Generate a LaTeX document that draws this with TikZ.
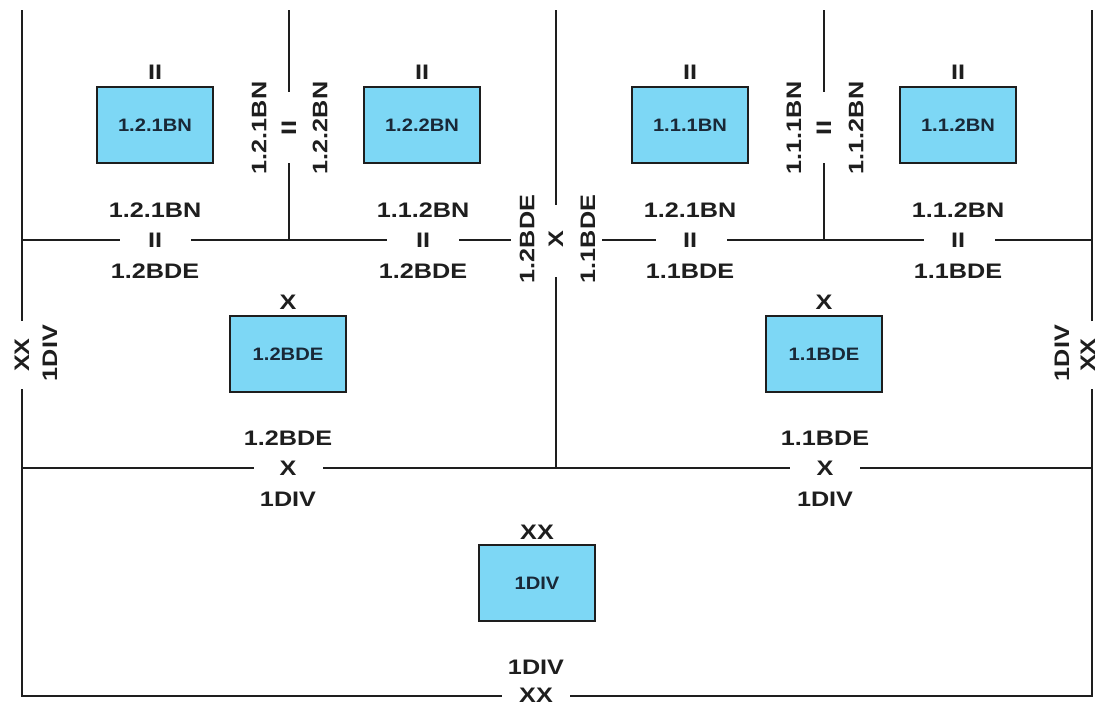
\documentclass[tikz,border=0pt]{standalone}
\usepackage{fontspec}
\setmainfont[FakeStretch=1.2]{Liberation Sans}
\newfontfamily\boxf[FakeStretch=1.12]{Liberation Sans}
\definecolor{boxblue}{RGB}{125,215,245}
\definecolor{ink}{RGB}{30,30,30}
\definecolor{boxink}{RGB}{25,40,55}
\tikzset{
  unitbox/.style={draw=ink, line width=2.8pt, fill=boxblue, minimum width=116pt, minimum height=76pt, inner sep=0pt, font=\boxf\bfseries\fontsize{18}{20}\selectfont, text=boxink},
  lbl/.style={inner sep=0pt, font=\bfseries\fontsize{21}{24}\selectfont, text=ink},
  rlbl/.style={lbl, rotate=90},
  wire/.style={draw=ink, line width=2.4pt}
}
\begin{document}
\begin{tikzpicture}[x=1pt,y=-1pt]
\useasboundingbox (0,0) rectangle (1099,707);
% boxes
\node[unitbox] (b121) at (155,125) {1.2.1BN};
\node[unitbox] (b122) at (422,125) {1.2.2BN};
\node[unitbox] (b111) at (690,125) {1.1.1BN};
\node[unitbox] (b112) at (958,125) {1.1.2BN};
\node[unitbox] (b12) at (288,354) {1.2BDE};
\node[unitbox] (b11) at (824,354) {1.1BDE};
\node[unitbox] (b1) at (537,583) {1DIV};
% echelon symbols above boxes
\node[lbl] (s121) at (155,72) {II};
\node[lbl] (s122) at (422,72) {II};
\node[lbl] (s111) at (690,72) {II};
\node[lbl] (s112) at (958,72) {II};
\node[lbl] (s12) at (288,302) {X};
\node[lbl] (s11) at (824,302) {X};
\node[lbl] (s1) at (537,532) {XX};
% boundary labels on y=240
\node[lbl] (h1a) at (155,210) {1.2.1BN};
\node[lbl] (h1b) at (155,240) {II};
\node[lbl] (h1c) at (155,271) {1.2BDE};
\node[lbl] (h2a) at (423,210) {1.1.2BN};
\node[lbl] (h2b) at (423,240) {II};
\node[lbl] (h2c) at (423,271) {1.2BDE};
\node[lbl] (h3a) at (690,210) {1.2.1BN};
\node[lbl] (h3b) at (690,240) {II};
\node[lbl] (h3c) at (690,271) {1.1BDE};
\node[lbl] (h4a) at (958,210) {1.1.2BN};
\node[lbl] (h4b) at (958,240) {II};
\node[lbl] (h4c) at (958,271) {1.1BDE};
% boundary labels on y=468
\node[lbl] (k1a) at (288,438) {1.2BDE};
\node[lbl] (k1b) at (288,468) {X};
\node[lbl] (k1c) at (288,499) {1DIV};
\node[lbl] (k2a) at (825,438) {1.1BDE};
\node[lbl] (k2b) at (825,468) {X};
\node[lbl] (k2c) at (825,499) {1DIV};
% bottom
\node[lbl] (d1a) at (536,667) {1DIV};
\node[lbl] (d1b) at (536,695) {XX};
% rotated labels
\node[rlbl] (v1a) at (259,128) {1.2.1BN};
\node[rlbl] (v1b) at (289,128) {II};
\node[rlbl] (v1c) at (320,128) {1.2.2BN};
\node[rlbl] (v2a) at (794,128) {1.1.1BN};
\node[rlbl] (v2b) at (824,128) {II};
\node[rlbl] (v2c) at (856,128) {1.1.2BN};
\node[rlbl] (m1a) at (527,239) {1.2BDE};
\node[rlbl] (m1b) at (556,239) {X};
\node[rlbl] (m1c) at (588,239) {1.1BDE};
\node[rlbl] (l1a) at (22,355) {XX};
\node[rlbl] (l1b) at (50,353) {1DIV};
\node[rlbl] (r1a) at (1062,353) {1DIV};
\node[rlbl] (r1b) at (1088,355) {XX};
% coordinates
\coordinate (LT) at (22,10);
\coordinate (LgA) at (22,321);
\coordinate (LgB) at (22,389);
\coordinate (LB) at (22,696);
\coordinate (RT) at (1092,10);
\coordinate (RgA) at (1092,321);
\coordinate (RgB) at (1092,389);
\coordinate (RB) at (1092,696);
\coordinate (BgA) at (502,696);
\coordinate (BgB) at (570,696);
\coordinate (L468) at (22,468);
\coordinate (K1A) at (254,468);
\coordinate (K1B) at (323,468);
\coordinate (M468) at (556,468);
\coordinate (K2A) at (790,468);
\coordinate (K2B) at (860,468);
\coordinate (R468) at (1092,468);
\coordinate (MT) at (556,10);
\coordinate (MgA) at (556,205);
\coordinate (MgB) at (556,277);
\coordinate (L240) at (22,240);
\coordinate (H1A) at (120,240);
\coordinate (H1B) at (191,240);
\coordinate (T1) at (289,240);
\coordinate (H2A) at (387,240);
\coordinate (H2B) at (459,240);
\coordinate (H2E) at (511,240);
\coordinate (H3S) at (602,240);
\coordinate (H3A) at (656,240);
\coordinate (H3B) at (727,240);
\coordinate (T2) at (824,240);
\coordinate (H4A) at (924,240);
\coordinate (H4B) at (995,240);
\coordinate (R240) at (1092,240);
\coordinate (V1T) at (289,10);
\coordinate (V1A) at (289,92);
\coordinate (V1B) at (289,163);
\coordinate (V2T) at (824,10);
\coordinate (V2A) at (824,92);
\coordinate (V2B) at (824,163);
% wires
\draw[wire] (LT) -- (LgA);
\draw[wire] (LgB) -- (LB) -- (BgA);
\draw[wire] (BgB) -- (RB) -- (RgB);
\draw[wire] (RgA) -- (RT);
\draw[wire] (L468) -- (K1A);
\draw[wire] (K1B) -- (M468) -- (K2A);
\draw[wire] (K2B) -- (R468);
\draw[wire] (MT) -- (MgA);
\draw[wire] (MgB) -- (M468);
\draw[wire] (L240) -- (H1A);
\draw[wire] (H1B) -- (T1) -- (H2A);
\draw[wire] (H2B) -- (H2E);
\draw[wire] (H3S) -- (H3A);
\draw[wire] (H3B) -- (T2) -- (H4A);
\draw[wire] (H4B) -- (R240);
\draw[wire] (V1T) -- (V1A);
\draw[wire] (V1B) -- (T1);
\draw[wire] (V2T) -- (V2A);
\draw[wire] (V2B) -- (T2);
\end{tikzpicture}
\end{document}
